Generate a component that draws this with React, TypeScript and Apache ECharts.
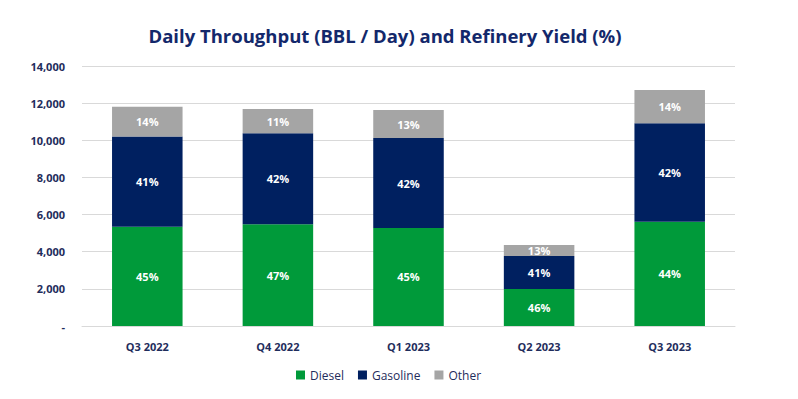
import React, { useEffect, useRef } from "react";
import * as echarts from "echarts";

const categories = ["Q3 2022", "Q4 2022", "Q1 2023", "Q2 2023", "Q3 2023"];
const diesel = [5350, 5475, 5280, 1990, 5620];
const gasoline = [4850, 4900, 4840, 1780, 5300];
const other = [1610, 1310, 1510, 590, 1790];
const dieselPct = ["45%", "47%", "45%", "46%", "44%"];
const gasolinePct = ["41%", "42%", "42%", "41%", "42%"];
const otherPct = ["14%", "11%", "13%", "13%", "14%"];

const FONT = "'Open Sans', 'Noto Sans', sans-serif";
const NAVY = "#1F2D5C";

function mk(name: string, values: number[], labels: string[], color: string) {
  return {
    name,
    type: "bar",
    stack: "total",
    barWidth: "54%",
    data: values,
    itemStyle: { color },
    label: {
      show: true,
      position: "inside",
      color: "#ffffff",
      fontWeight: "bold",
      fontSize: 11,
      fontFamily: FONT,
      formatter: (p: any) => labels[p.dataIndex],
    },
  };
}

export default function App() {
  const ref = useRef<HTMLDivElement>(null);
  useEffect(() => {
    const chart = echarts.init(ref.current!, null, { renderer: "svg" });
    chart.setOption({
      animation: false,
      title: {
        text: "Daily Throughput (BBL / Day) and Refinery Yield (%)",
        left: 372,
        top: 13,
        textAlign: "center",
        textStyle: { color: "#13286B", fontSize: 18.5, fontWeight: "bold", fontFamily: FONT },
      },
      legend: {
        bottom: 5,
        left: 283,
        itemWidth: 9,
        itemHeight: 9,
        itemGap: 14,
        icon: "rect",
        textStyle: { color: NAVY, fontSize: 12, fontFamily: FONT },
        data: ["Diesel", "Gasoline", "Other"],
      },
      grid: { left: 74, right: 55, top: 58, bottom: 65 },
      xAxis: {
        type: "category",
        data: categories,
        axisLine: { show: true, lineStyle: { color: "#D9D9D9" } },
        axisTick: { show: false },
        axisLabel: { color: NAVY, fontWeight: "bold", fontSize: 11, fontFamily: FONT, margin: 15 },
      },
      yAxis: {
        type: "value",
        min: 0,
        max: 14000,
        interval: 2000,
        axisLine: { show: false },
        axisTick: { show: false },
        splitLine: { lineStyle: { color: "#D9D9D9" } },
        axisLabel: {
          color: NAVY,
          fontWeight: "bold",
          fontSize: 11,
          fontFamily: FONT,
          margin: 17,
          formatter: (v: number) => (v === 0 ? "-" : v.toLocaleString("en-US")),
        },
      },
      series: [
        mk("Diesel", diesel, dieselPct, "#009A3A"),
        mk("Gasoline", gasoline, gasolinePct, "#002060"),
        mk("Other", other, otherPct, "#A5A5A5"),
      ],
    });
    return () => chart.dispose();
  }, []);
  return <div ref={ref} style={{ width: 782, height: 383 }} />;
}
